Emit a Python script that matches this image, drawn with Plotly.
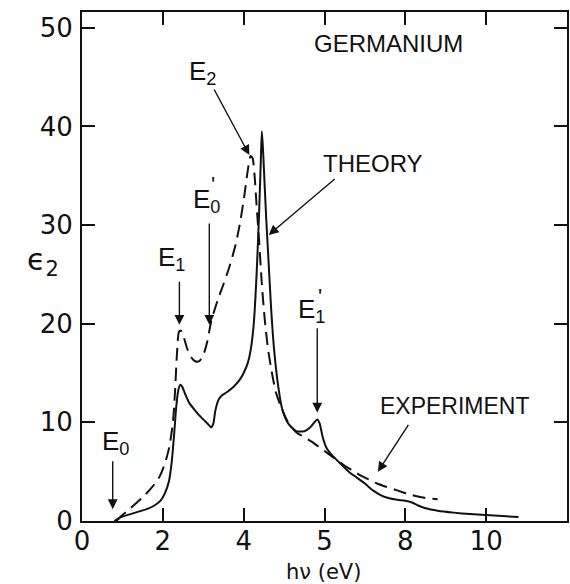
import plotly.graph_objects as go

# Germanium imaginary dielectric function eps2 vs photon energy
theory_ev = [0.80, 0.90, 1.00, 1.20, 1.40, 1.60, 1.80, 1.95, 2.05, 2.15, 2.22, 2.28,
             2.33, 2.38, 2.43, 2.48, 2.55, 2.65, 2.80, 2.95, 3.10, 3.20, 3.25, 3.30,
             3.38, 3.45, 3.60, 3.75, 3.90, 4.00, 4.10, 4.18, 4.25, 4.32, 4.38, 4.42,
             4.45, 4.48, 4.52, 4.56, 4.60, 4.68, 4.75, 4.85, 4.95, 5.10, 5.30, 5.50,
             5.65, 5.75, 5.82, 5.88, 5.95, 6.05, 6.20, 6.40, 6.60, 6.80, 7.00, 7.20,
             7.40, 7.60, 7.80, 8.00, 8.15, 8.30, 8.50, 8.80, 9.20, 9.60, 10.00, 10.40,
             10.80]
theory_eps2 = [0.0, 0.25, 0.45, 0.7, 0.95, 1.2, 1.6, 2.1, 2.8, 4.0, 6.0, 8.8,
               11.5, 13.2, 13.8, 13.6, 12.9, 12.0, 11.2, 10.5, 9.9, 9.5, 9.9, 11.2,
               12.3, 12.7, 13.1, 13.6, 14.3, 15.0, 16.0, 17.5, 20.0, 25.0, 31.0, 36.0,
               39.5, 37.5, 34.0, 30.5, 27.5, 21.5, 17.5, 13.8, 11.4, 9.9, 9.1, 9.1,
               9.5, 10.0, 10.3, 9.9, 8.6, 7.4, 6.6, 5.8, 5.0, 4.4, 3.8, 3.1,
               2.6, 2.3, 2.15, 2.05, 1.9, 1.6, 1.3, 1.05, 0.85, 0.7, 0.6, 0.5,
               0.4]

experiment_ev = [0.85, 1.00, 1.20, 1.50, 1.75, 1.92, 2.05, 2.16, 2.25, 2.30, 2.35, 2.40,
                 2.45, 2.52, 2.60, 2.70, 2.80, 2.90, 3.00, 3.10, 3.20, 3.35, 3.50, 3.65,
                 3.80, 3.90, 4.00, 4.10, 4.17, 4.22, 4.27, 4.32, 4.38, 4.45, 4.52, 4.60,
                 4.70, 4.80, 4.95, 5.10, 5.30, 5.50, 5.70, 5.90, 6.10, 6.30, 6.50, 6.70,
                 6.90, 7.10, 7.30, 7.50, 7.80, 8.10, 8.40, 8.80]
experiment_eps2 = [0.0, 0.6, 1.3, 2.4, 3.5, 4.5, 5.8, 7.5, 10.0, 13.0, 17.0, 19.2,
                   19.3, 18.6, 17.5, 16.6, 16.2, 16.2, 16.8, 18.2, 20.3, 22.3, 24.0, 25.8,
                   28.0, 30.0, 32.5, 35.5, 37.0, 36.8, 35.0, 32.0, 28.5, 24.0, 20.5, 17.5,
                   15.0, 13.0, 11.3, 10.0, 9.0, 8.5, 8.0, 7.4, 6.8, 6.2, 5.6, 5.1,
                   4.6, 4.2, 3.8, 3.5, 3.1, 2.7, 2.4, 2.2]

x_tick_vals = [0, 2, 4, 6, 8, 10]
x_tick_text = ["0", "2", "4", "5", "8", "10"]
y_tick_vals = [0, 10, 20, 30, 40, 50]
y_tick_text = ["0", "10", "20", "30", "40", "50"]

INK = "#111111"
LABEL_FONT = "Liberation Sans"
NUM_FONT = "DejaVu Sans"

fig = go.Figure()
fig.add_trace(go.Scatter(x=experiment_ev, y=experiment_eps2, mode="lines",
                         line=dict(color=INK, width=2, dash="13px,7px", shape="spline",
                                   smoothing=0.6),
                         hoverinfo="skip"))
fig.add_trace(go.Scatter(x=theory_ev, y=theory_eps2, mode="lines",
                         line=dict(color=INK, width=2, shape="spline", smoothing=0.6),
                         hoverinfo="skip"))

# text labels
texts = [
    ("GERMANIUM", 7.59, 48.4, 24),
    ("THEORY", 7.20, 36.2, 24),
    ("EXPERIMENT", 9.24, 11.7, 23),
    ("E<sub>2</sub>", 2.98, 45.5, 26),
    ("E<sub>0</sub>", 3.09, 32.5, 26),
    ("'", 3.23, 34.1, 22),
    ("E<sub>1</sub>", 2.21, 26.6, 26),
    ("E<sub>1</sub>", 5.69, 21.3, 26),
    ("'", 5.90, 22.8, 22),
    ("E<sub>0</sub>", 0.84, 8.0, 26),
]
for t, x, y, s in texts:
    fig.add_annotation(x=x, y=y, xref="x", yref="y", text=t, showarrow=False,
                       font=dict(family=LABEL_FONT, size=s, color=INK))

# arrows: (head x, head y, tail x, tail y)
arrows = [
    (4.62, 29.0, 6.29, 34.8),   # THEORY
    (7.32, 5.0, 8.10, 9.9),     # EXPERIMENT
    (4.14, 37.1, 3.25, 43.9),   # E2
    (3.15, 19.9, 3.15, 30.3),   # E0'
    (2.41, 19.9, 2.41, 24.4),   # E1
    (5.82, 11.0, 5.82, 19.7),   # E1'
    (0.76, 1.2, 0.76, 6.2),     # E0
]
for hx, hy, tx, ty in arrows:
    fig.add_annotation(x=hx, y=hy, ax=tx, ay=ty, xref="x", yref="y",
                       axref="x", ayref="y", text="", showarrow=True,
                       arrowhead=2, arrowsize=1.4, arrowwidth=1.4, arrowcolor=INK)

# axis titles
fig.add_annotation(x=-0.118, y=0.51, xref="paper", yref="paper",
                   text="ϵ<sub>2</sub>", showarrow=False,
                   font=dict(family=NUM_FONT, size=30, color=INK))
fig.add_annotation(x=0.497, y=-0.1, xref="paper", yref="paper",
                   text="hν (eV)", showarrow=False, yanchor="middle",
                   font=dict(family=NUM_FONT, size=21, color=INK))

axis_common = dict(showline=True, linewidth=2, linecolor=INK, mirror="ticks",
                   ticks="inside", ticklen=13, tickwidth=1.5, tickcolor=INK,
                   showgrid=False, zeroline=False,
                   tickfont=dict(family=NUM_FONT, size=26, color=INK))

fig.update_xaxes(range=[0, 12], tickvals=x_tick_vals, ticktext=x_tick_text,
                 ticklabelstandoff=-4, **axis_common)
fig.update_yaxes(range=[0, 51.6], tickvals=y_tick_vals, ticktext=y_tick_text,
                 ticklabelstandoff=2, **axis_common)

fig.update_layout(width=570, height=584, showlegend=False,
                  margin=dict(l=82, r=1, t=12, b=63),
                  plot_bgcolor="white", paper_bgcolor="white")

fig.write_html("out.html")
